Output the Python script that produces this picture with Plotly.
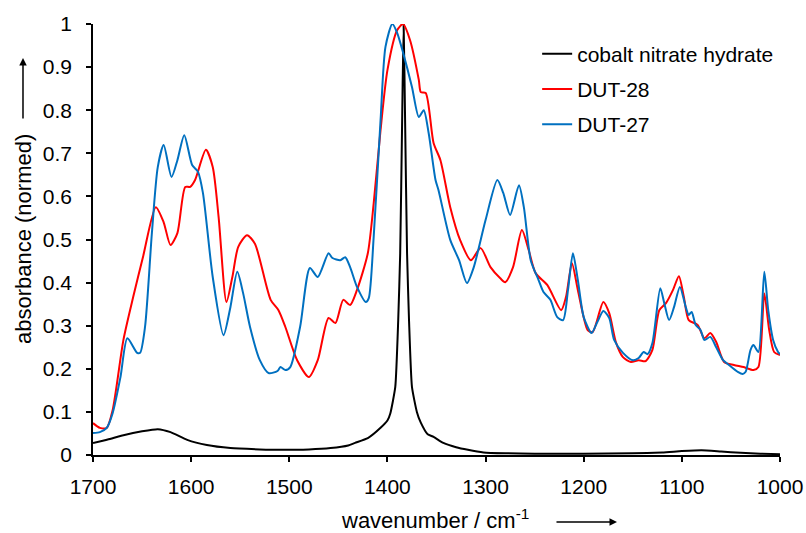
import plotly.graph_objects as go

# cobalt nitrate hydrate (black)
w_co = [1700, 1685, 1669, 1650, 1634, 1621, 1604, 1584, 1560, 1530, 1509, 1480, 1458, 1440,
        1433, 1420, 1407, 1400, 1397, 1392, 1389, 1387, 1385, 1383.5, 1382, 1380, 1378, 1375,
        1370, 1366, 1359, 1353, 1343, 1330, 1318, 1302, 1280, 1250, 1200, 1150, 1120, 1100,
        1080, 1060, 1040, 1020, 1000]
a_co = [0.028, 0.036, 0.046, 0.055, 0.060, 0.053, 0.035, 0.023, 0.016, 0.013, 0.012, 0.013,
        0.016, 0.022, 0.028, 0.039, 0.063, 0.080, 0.097, 0.158, 0.313, 0.468, 0.777, 1.0,
        0.777, 0.468, 0.313, 0.158, 0.100, 0.075, 0.048, 0.042, 0.028, 0.018, 0.012, 0.006,
        0.004, 0.003, 0.003, 0.004, 0.006, 0.009, 0.011, 0.008, 0.005, 0.003, 0.002]

# DUT-28 (red)
w_28 = [1700, 1693, 1686, 1680, 1669, 1659, 1649, 1636, 1628, 1621,
        1614, 1606, 1601, 1596, 1585, 1578, 1572, 1564, 1558, 1552,
        1543, 1535, 1519, 1511, 1504, 1492, 1480, 1471, 1460, 1453,
        1445, 1438, 1431, 1420, 1414, 1407, 1400, 1390, 1384, 1377,
        1368, 1366, 1361, 1353, 1346, 1336, 1326, 1315, 1305, 1295,
        1285, 1280, 1272, 1263, 1256, 1249, 1237, 1223, 1218, 1212,
        1206, 1196, 1191, 1180, 1174, 1167, 1160, 1152, 1144, 1137,
        1130, 1123, 1116, 1109, 1103, 1098, 1093, 1084, 1077, 1071,
        1065, 1057, 1047, 1037, 1027, 1022, 1016, 1011, 1006, 1000]
a_28 = [0.074, 0.063, 0.063, 0.104, 0.267, 0.367, 0.46, 0.575, 0.54, 0.487,
        0.515, 0.622, 0.622, 0.638, 0.708, 0.668, 0.552, 0.355, 0.413, 0.483,
        0.51, 0.49, 0.36, 0.336, 0.297, 0.22, 0.181, 0.22, 0.318, 0.306,
        0.36, 0.348, 0.383, 0.468, 0.584, 0.754, 0.893, 0.986, 1.0, 0.963,
        0.87, 0.842, 0.84, 0.724, 0.684, 0.575, 0.499, 0.452, 0.48, 0.436,
        0.41, 0.401, 0.436, 0.522, 0.475, 0.422, 0.394, 0.336, 0.367, 0.445,
        0.383, 0.29, 0.285, 0.355, 0.329, 0.26, 0.227, 0.216, 0.22, 0.218,
        0.244, 0.336, 0.353, 0.383, 0.415, 0.367, 0.313, 0.302, 0.271, 0.283,
        0.262, 0.216, 0.209, 0.204, 0.197, 0.204, 0.375, 0.29, 0.239, 0.232]

# DUT-27 (blue)
w_27 = [1700, 1693, 1686, 1680, 1672, 1665, 1655, 1652, 1647, 1640,
        1634, 1628, 1620, 1614, 1607, 1599, 1593, 1588, 1578, 1567,
        1560, 1553, 1547, 1540, 1530, 1521, 1512, 1509, 1504, 1499,
        1489, 1479, 1471, 1460, 1456, 1448, 1443, 1438, 1431, 1422,
        1419, 1414, 1407, 1402, 1395, 1390, 1384, 1375, 1368, 1363,
        1358, 1351, 1348, 1336, 1327, 1319, 1312, 1300, 1288, 1282,
        1275, 1266, 1261, 1254, 1246, 1241, 1234, 1227, 1221, 1216,
        1211, 1206, 1200, 1192, 1186, 1180, 1174, 1169, 1160, 1150,
        1144, 1139, 1135, 1130, 1122, 1118, 1113, 1108, 1102, 1096,
        1093, 1090, 1086, 1081, 1077, 1071, 1065, 1058, 1052, 1043,
        1038, 1035, 1030, 1027, 1022, 1016, 1012, 1007, 1002, 1000]
a_27 = [0.051, 0.053, 0.063, 0.097, 0.181, 0.271, 0.237, 0.237, 0.297, 0.515,
        0.668, 0.719, 0.645, 0.684, 0.742, 0.673, 0.657, 0.608, 0.413, 0.278,
        0.343, 0.425, 0.375, 0.297, 0.22, 0.19, 0.195, 0.204, 0.197, 0.204,
        0.297, 0.434, 0.413, 0.468, 0.457, 0.452, 0.459, 0.436, 0.39, 0.355,
        0.364, 0.506, 0.777, 0.947, 1.0, 0.979, 0.933, 0.854, 0.784, 0.8,
        0.747, 0.638, 0.615, 0.499, 0.452, 0.399, 0.436, 0.545, 0.638, 0.608,
        0.557, 0.626, 0.575, 0.452, 0.406, 0.378, 0.36, 0.32, 0.313, 0.383,
        0.468, 0.406, 0.32, 0.283, 0.309, 0.334, 0.318, 0.267, 0.237, 0.22,
        0.225, 0.239, 0.234, 0.26, 0.387, 0.353, 0.313, 0.343, 0.39, 0.343,
        0.325, 0.332, 0.302, 0.29, 0.267, 0.274, 0.25, 0.22, 0.209, 0.193,
        0.188, 0.193, 0.244, 0.255, 0.239, 0.425, 0.336, 0.267, 0.239, 0.234]

x_ticks = [1700, 1600, 1500, 1400, 1300, 1200, 1100, 1000]
y_ticks = [0, 0.1, 0.2, 0.3, 0.4, 0.5, 0.6, 0.7, 0.8, 0.9, 1]
y_ticktext = ["0", "0.1", "0.2", "0.3", "0.4", "0.5", "0.6", "0.7", "0.8", "0.9", "1"]

FONT = "Liberation Sans, Arial, sans-serif"

fig = go.Figure()
fig.add_trace(go.Scatter(x=w_co, y=a_co, mode="lines", name="cobalt nitrate hydrate",
                         line=dict(color="#000000", width=2, shape="spline", smoothing=0.5),
                         legendgroup="a"))
fig.add_trace(go.Scatter(x=w_28, y=a_28, mode="lines", name="DUT-28",
                         line=dict(color="#FF0000", width=2, shape="spline", smoothing=0.7),
                         legendgroup="b"))
fig.add_trace(go.Scatter(x=w_27, y=a_27, mode="lines", name="DUT-27",
                         line=dict(color="#0070C0", width=2, shape="spline", smoothing=0.7),
                         legendgroup="c"))

fig.update_layout(
    width=806, height=533,
    margin=dict(l=93, r=26, t=24, b=78, autoexpand=False),
    paper_bgcolor="white", plot_bgcolor="white",
    font=dict(family=FONT, size=21, color="#000000"),
    showlegend=True,
    legend=dict(x=0.6465, y=0.978, xanchor="left", yanchor="top",
                font=dict(family=FONT, size=21, color="#000000"),
                itemwidth=30, tracegroupgap=5, bgcolor="rgba(0,0,0,0)"),
    xaxis=dict(range=[1700, 1000], tickvals=x_ticks, ticks="outside", ticklen=5,
               tickwidth=1.5, tickcolor="#000000", showline=True, linecolor="#000000",
               linewidth=1.5, showgrid=False, zeroline=False, ticklabelstandoff=7,
               tickfont=dict(family=FONT, size=21)),
    yaxis=dict(range=[0, 1], tickvals=y_ticks, ticktext=y_ticktext, ticks="outside",
               ticklen=5, tickwidth=1.5, tickcolor="#000000", showline=True,
               linecolor="#000000", linewidth=1.5, showgrid=False, zeroline=False,
               ticklabelstandoff=10, tickfont=dict(family=FONT, size=21)),
    annotations=[
        dict(text="absorbance (normed)", textangle=-90, xref="paper", yref="paper",
             x=-0.1019, y=0.501, xanchor="center", yanchor="middle", showarrow=False,
             font=dict(family=FONT, size=22)),
        dict(text="", xref="paper", yref="paper", x=-0.1019, y=0.921, showarrow=True,
             ax=0, ay=62, arrowhead=2, arrowsize=1, arrowwidth=1.5, arrowcolor="#000000"),
        dict(text="wavenumber / cm<sup>-1</sup>", xref="paper", yref="paper",
             x=0.498, y=-0.149, xanchor="center", yanchor="middle", showarrow=False,
             font=dict(family=FONT, size=22)),
        dict(text="", xref="paper", yref="paper", x=0.7627, y=-0.1555, showarrow=True,
             ax=-62, ay=0, arrowhead=2, arrowsize=1, arrowwidth=1.5, arrowcolor="#000000"),
    ],
)

fig.write_html("out.html")
